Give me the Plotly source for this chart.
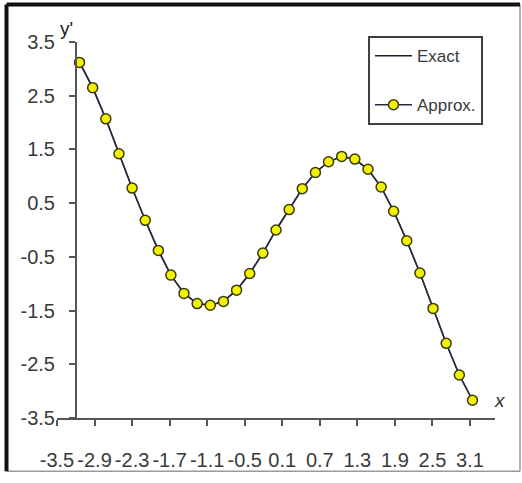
import plotly.graph_objects as go

# Sample abscissae (from -pi to pi) and the derivative values y'
x_vals = [-3.14, -2.93, -2.72, -2.51, -2.30, -2.09, -1.88, -1.68, -1.47, -1.26,
          -1.05, -0.84, -0.63, -0.42, -0.21, 0.00, 0.21, 0.42, 0.63, 0.84,
          1.05, 1.26, 1.47, 1.68, 1.88, 2.09, 2.30, 2.51, 2.72, 2.93, 3.14]
y_exact = [3.12, 2.65, 2.07, 1.42, 0.78, 0.18, -0.38, -0.84, -1.18, -1.37,
           -1.40, -1.33, -1.12, -0.81, -0.43, 0.00, 0.38, 0.77, 1.07, 1.27,
           1.37, 1.32, 1.13, 0.80, 0.35, -0.20, -0.80, -1.46, -2.11, -2.70, -3.17]
y_approx = [3.12, 2.65, 2.07, 1.42, 0.78, 0.18, -0.38, -0.84, -1.18, -1.37,
            -1.40, -1.33, -1.12, -0.81, -0.43, 0.00, 0.38, 0.77, 1.07, 1.27,
            1.37, 1.32, 1.13, 0.80, 0.35, -0.20, -0.80, -1.46, -2.11, -2.70, -3.17]

x_ticks = [-3.5, -2.9, -2.3, -1.7, -1.1, -0.5, 0.1, 0.7, 1.3, 1.9, 2.5, 3.1]
x_tick_text = ["-3.5", "-2.9", "-2.3", "-1.7", "-1.1", "-0.5", "0.1", "0.7", "1.3", "1.9", "2.5", "3.1"]
y_ticks = [3.5, 2.5, 1.5, 0.5, -0.5, -1.5, -2.5, -3.5]
y_tick_text = ["3.5", "2.5", "1.5", "0.5", "-0.5", "-1.5", "-2.5", "-3.5"]

FONT = "Liberation Sans, Arial, sans-serif"
TEXT = "#3a3a3a"
AXIS = "#555555"

fig = go.Figure()
fig.add_trace(go.Scatter(
    x=x_vals, y=y_exact, mode="lines", name="Exact", legendgroup="a",
    line=dict(color="#1c1c2c", width=1.5),
))
fig.add_trace(go.Scatter(
    x=x_vals, y=y_approx, mode="lines+markers", name="Approx.", legendgroup="b",
    line=dict(color="#2a2a40", width=1.5),
    marker=dict(symbol="circle", size=10, color="#f2f200",
                line=dict(color="#3a3a10", width=1.5)),
))

fig.update_layout(
    width=522, height=483,
    margin=dict(l=57, r=27, t=42, b=60),
    paper_bgcolor="white", plot_bgcolor="white",
    font=dict(family=FONT, size=20, color=TEXT),
    showlegend=True,
    legend=dict(
        x=0.71, y=1.0157, xanchor="left", yanchor="top",
        bordercolor="#404040", borderwidth=2, bgcolor="white",
        font=dict(family=FONT, size=17, color=TEXT),
        itemwidth=37, tracegroupgap=24,
    ),
    xaxis=dict(
        range=[-3.5, 3.5], tickmode="array", tickvals=x_ticks, ticktext=x_tick_text,
        showgrid=False, zeroline=False, showline=True, linecolor=AXIS, linewidth=2,
        ticks="outside", ticklen=6, tickwidth=1.5, tickcolor=AXIS,
        ticklabelstandoff=17, tickfont=dict(size=20, color=TEXT),
    ),
    yaxis=dict(
        range=[-3.5, 3.5], tickmode="array", tickvals=y_ticks, ticktext=y_tick_text,
        anchor="free", position=0.0434,
        showgrid=False, zeroline=False, showline=True, linecolor=AXIS, linewidth=2,
        ticks="outside", ticklen=6, tickwidth=1.5, tickcolor=AXIS,
        ticklabelstandoff=10, tickfont=dict(size=20, color=TEXT),
    ),
    annotations=[
        dict(text="y'", xref="paper", yref="paper", x=0.0228, y=1.0367,
             xanchor="center", yanchor="middle", showarrow=False,
             font=dict(family=FONT, size=19, color="#222")),
        dict(text="<i>x</i>", xref="paper", yref="paper", x=1.0114, y=0.0472,
             xanchor="center", yanchor="middle", showarrow=False,
             font=dict(family=FONT, size=19, color="#333")),
    ],
    shapes=[
        # chart frame: heavy top/left edges, light right/bottom edges
        dict(type="line", xref="paper", yref="paper", x0=1.0571, x1=1.0571,
             y0=-0.1417, y1=1.0997, line=dict(color="#9a9a9a", width=1.5)),
        dict(type="line", xref="paper", yref="paper", x0=-0.1153, x1=1.0571,
             y0=-0.1417, y1=-0.1417, line=dict(color="#9a9a9a", width=1.5)),
        dict(type="line", xref="paper", yref="paper", x0=-0.1153, x1=-0.1153,
             y0=-0.1417, y1=1.0997, line=dict(color="#111111", width=4)),
        dict(type="line", xref="paper", yref="paper", x0=-0.1153, x1=1.0571,
             y0=1.0997, y1=1.0997, line=dict(color="#111111", width=4)),
    ],
)

fig.write_html("out.html")
